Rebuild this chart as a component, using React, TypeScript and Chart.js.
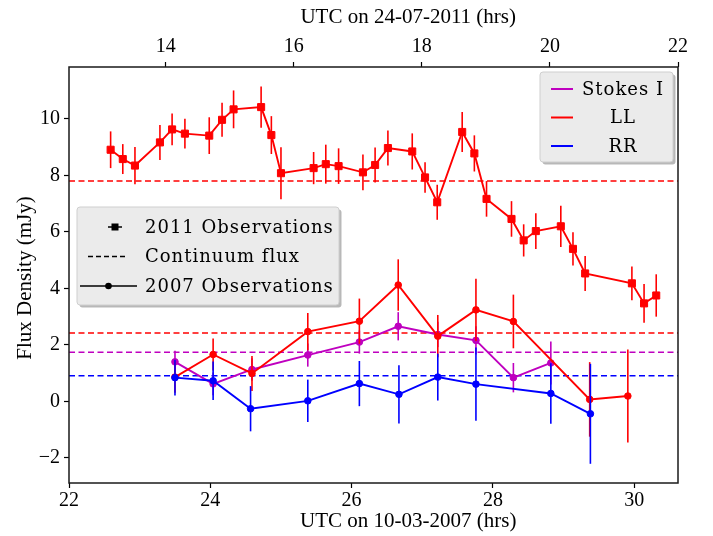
import React, { useEffect, useRef } from 'react';
import { Chart, registerables } from 'chart.js';

Chart.register(...registerables);

// ---- axis ranges & ticks ----
const X2007_MIN = 22;
const X2007_MAX = 30.62;
const X2011_MIN = 12.49;
const X2011_MAX = 22.0;
const Y_MIN = -2.89;
const Y_MAX = 11.84;
const TICKS_2007 = [22, 24, 26, 28, 30];
const TICKS_2011 = [14, 16, 18, 20, 22];
const TICKS_Y = [-2, 0, 2, 4, 6, 8, 10];

// ---- axis titles ----
const TITLE_BOTTOM = 'UTC on 10-03-2007 (hrs)';
const TITLE_TOP = 'UTC on 24-07-2011 (hrs)';
const TITLE_Y = 'Flux Density (mJy)';

// ---- 2011 observations (LL), UTC hours on 24-07-2011 ----
const t2011 = [13.14, 13.33, 13.52, 13.91, 14.10, 14.30, 14.68, 14.88, 15.06, 15.49, 15.65, 15.80, 16.31, 16.50, 16.70, 17.08, 17.27, 17.47, 17.85, 18.05, 18.24, 18.63, 18.82, 19.01, 19.40, 19.59, 19.78, 20.17, 20.36, 20.55, 21.28, 21.47, 21.66];
const ll2011 = [8.91, 8.58, 8.35, 9.17, 9.63, 9.48, 9.41, 9.97, 10.34, 10.42, 9.43, 8.08, 8.26, 8.40, 8.33, 8.11, 8.37, 8.97, 8.85, 7.93, 7.05, 9.54, 8.78, 7.17, 6.46, 5.70, 6.03, 6.20, 5.40, 4.53, 4.18, 3.47, 3.75];
const ll2011Err = [0.65, 0.53, 0.66, 0.62, 0.56, 0.53, 0.65, 0.60, 0.67, 0.73, 0.67, 0.92, 0.57, 0.69, 0.63, 0.63, 0.62, 0.62, 0.64, 0.54, 0.62, 0.71, 0.64, 0.63, 0.63, 0.57, 0.63, 0.73, 0.59, 0.62, 0.60, 0.69, 0.75];

// ---- 2007 observations, UTC hours on 10-03-2007 ----
const tStokes2007 = [23.50, 24.04, 24.59, 25.38, 26.11, 26.66, 27.22, 27.76, 28.29, 28.82];
const stokes2007 = [1.40, 0.62, 1.13, 1.64, 2.10, 2.66, 2.37, 2.16, 0.84, 1.36];
const stokes2007Err = [0.39, 0.40, 0.40, 0.41, 0.41, 0.50, 0.45, 0.50, 0.52, 0.76];

const tLL2007 = [23.50, 24.04, 24.59, 25.38, 26.11, 26.66, 27.22, 27.76, 28.29, 29.37, 29.91];
const ll2007 = [0.86, 1.66, 0.99, 2.47, 2.84, 4.12, 2.31, 3.24, 2.83, 0.07, 0.19];
const ll2007Err = [0.55, 0.57, 0.62, 0.66, 0.80, 0.91, 0.75, 1.10, 0.95, 1.32, 1.65];

const tRR2007 = [23.50, 24.04, 24.57, 25.38, 26.11, 26.67, 27.22, 27.76, 28.82, 29.38];
const rr2007 = [0.84, 0.73, -0.26, 0.02, 0.63, 0.25, 0.86, 0.61, 0.28, -0.44];
const rr2007Err = [0.63, 0.68, 0.80, 0.75, 0.80, 1.03, 0.83, 1.30, 1.07, 1.77];

// ---- continuum flux levels ----
const contLL2011 = 7.8;
const contLL2007 = 2.42;
const contStokes2007 = 1.74;
const contRR2007 = 0.91;

const MAGENTA = '#bf00bf';
const RED = '#ff0000';
const BLUE = '#0000ff';

const AXIS_FONT = { family: "'Liberation Serif', serif", size: 20 };
const TITLE_FONT = "21px 'Liberation Serif', serif";
const LEGEND_FONT = "18px 'DejaVu Serif', serif";

const pts = (xs: number[], ys: number[]) => xs.map((x, i) => ({ x, y: ys[i] }));

const errorBarPlugin = {
  id: 'errorBars',
  beforeDatasetDraw(chart: any, args: any) {
    const ds = chart.data.datasets[args.index];
    if (!ds.errors) return;
    const meta = args.meta;
    const xs = chart.scales[meta.xAxisID];
    const ys = chart.scales[meta.yAxisID];
    const ctx = chart.ctx;
    ctx.save();
    ctx.strokeStyle = ds.borderColor;
    ctx.lineWidth = 1.6;
    ds.data.forEach((p: any, i: number) => {
      const x = xs.getPixelForValue(p.x);
      ctx.beginPath();
      ctx.moveTo(x, ys.getPixelForValue(p.y - ds.errors[i]));
      ctx.lineTo(x, ys.getPixelForValue(p.y + ds.errors[i]));
      ctx.stroke();
    });
    ctx.restore();
  },
};

const framePlugin = {
  id: 'frame',
  afterDatasetsDraw(chart: any) {
    const { left, top, right, bottom } = chart.chartArea;
    const ctx = chart.ctx;
    ctx.save();
    ctx.strokeStyle = '#1a1a1a';
    ctx.lineWidth = 1.5;
    ctx.strokeRect(left, top, right - left, bottom - top);
    ctx.restore();
  },
};

const titlesPlugin = {
  id: 'axisTitles',
  afterDraw(chart: any) {
    const ctx: CanvasRenderingContext2D = chart.ctx;
    const ca = chart.chartArea;
    const cx = ca.left + (ca.right - ca.left) * 0.557;
    ctx.save();
    ctx.font = TITLE_FONT;
    ctx.fillStyle = '#000';
    ctx.textAlign = 'center';
    ctx.textBaseline = 'middle';
    ctx.fillText(TITLE_TOP, cx, 17);
    ctx.fillText(TITLE_BOTTOM, cx, chart.height - 15);
    ctx.translate(25, (ca.top + ca.bottom) / 2 + 3);
    ctx.rotate(-Math.PI / 2);
    ctx.fillText(TITLE_Y, 0, 0);
    ctx.restore();
  },
};

function roundRect(ctx: CanvasRenderingContext2D, x: number, y: number, w: number, h: number, r: number) {
  ctx.beginPath();
  ctx.moveTo(x + r, y);
  ctx.lineTo(x + w - r, y);
  ctx.quadraticCurveTo(x + w, y, x + w, y + r);
  ctx.lineTo(x + w, y + h - r);
  ctx.quadraticCurveTo(x + w, y + h, x + w - r, y + h);
  ctx.lineTo(x + r, y + h);
  ctx.quadraticCurveTo(x, y + h, x, y + h - r);
  ctx.lineTo(x, y + r);
  ctx.quadraticCurveTo(x, y, x + r, y);
  ctx.closePath();
}

function legendBox(ctx: CanvasRenderingContext2D, x: number, y: number, w: number, h: number) {
  ctx.save();
  roundRect(ctx, x + 2.5, y + 2.5, w, h, 3);
  ctx.fillStyle = 'rgba(0,0,0,0.28)';
  ctx.fill();
  roundRect(ctx, x, y, w, h, 3);
  ctx.fillStyle = '#ebebeb';
  ctx.fill();
  ctx.strokeStyle = '#cfcfcf';
  ctx.lineWidth = 1;
  ctx.stroke();
  ctx.restore();
}

const legendsPlugin = {
  id: 'customLegends',
  afterDraw(chart: any) {
    const ctx: CanvasRenderingContext2D = chart.ctx;
    const ca = chart.chartArea;
    ctx.save();
    ctx.font = LEGEND_FONT;
    (ctx as any).letterSpacing = '1px';
    ctx.textBaseline = 'middle';
    ctx.fillStyle = '#000';

    // Legend 1: symbols
    const lx = ca.left + 8;
    const ly = ca.top + 140;
    legendBox(ctx, lx, ly, 262, 98);
    const rows1 = [ly + 20, ly + 49.5, ly + 79];
    const textX = lx + 68;
    ctx.strokeStyle = '#000';
    ctx.lineWidth = 1.5;
    ctx.beginPath();
    ctx.moveTo(lx + 31, rows1[0]);
    ctx.lineTo(lx + 45, rows1[0]);
    ctx.stroke();
    ctx.fillRect(lx + 34.5, rows1[0] - 3.5, 7, 7);
    ctx.setLineDash([5, 3]);
    ctx.beginPath();
    ctx.moveTo(lx + 11, rows1[1]);
    ctx.lineTo(lx + 50, rows1[1]);
    ctx.stroke();
    ctx.setLineDash([]);
    ctx.beginPath();
    ctx.moveTo(lx + 3, rows1[2]);
    ctx.lineTo(lx + 60, rows1[2]);
    ctx.stroke();
    ctx.beginPath();
    ctx.arc(lx + 31.5, rows1[2], 3.3, 0, Math.PI * 2);
    ctx.fill();
    ctx.textAlign = 'left';
    ctx.fillText('2011 Observations', textX, rows1[0] + 1);
    ctx.fillText('Continuum flux', textX, rows1[1] + 1);
    ctx.fillText('2007 Observations', textX, rows1[2] + 1);

    // Legend 2: colours
    const rx = ca.right - 138;
    const ry = ca.top + 5;
    legendBox(ctx, rx, ry, 133, 90);
    const rows2 = [ry + 17, ry + 45.5, ry + 74];
    const items: [string, string][] = [['Stokes I', MAGENTA], ['LL', RED], ['RR', BLUE]];
    ctx.textAlign = 'center';
    items.forEach(([label, color], i) => {
      ctx.strokeStyle = color;
      ctx.lineWidth = 2;
      ctx.beginPath();
      ctx.moveTo(rx + 11, rows2[i]);
      ctx.lineTo(rx + 33, rows2[i]);
      ctx.stroke();
      ctx.fillStyle = '#000';
      ctx.fillText(label, rx + 83, rows2[i] + 1);
    });
    ctx.restore();
  },
};

const series = (label: string, xs: number[], ys: number[], errs: number[], color: string, order: number, rect = false, axis = 'x') => ({
  type: 'line',
  label,
  data: pts(xs, ys),
  errors: errs,
  xAxisID: axis,
  yAxisID: 'y',
  borderColor: color,
  backgroundColor: color,
  pointBackgroundColor: color,
  pointBorderColor: color,
  borderWidth: 1.9,
  pointRadius: rect ? 5 : 3.3,
  pointBorderWidth: 1,
  pointStyle: rect ? 'rect' : 'circle',
  tension: 0,
  order,
});

const hline = (label: string, y: number, color: string) => ({
  type: 'line',
  label,
  data: [{ x: X2007_MIN, y }, { x: X2007_MAX, y }],
  xAxisID: 'x',
  yAxisID: 'y',
  borderColor: color,
  borderWidth: 1.5,
  borderDash: [6, 3.5],
  pointRadius: 0,
  order: 10,
});

export default function App() {
  const ref = useRef<HTMLCanvasElement | null>(null);

  useEffect(() => {
    if (!ref.current) return;
    const tickGrid = { drawOnChartArea: false, tickLength: 5, color: '#000', tickWidth: 1.2 };
    const chart = new Chart(ref.current, {
      type: 'line',
      data: {
        datasets: [
          series('RR 2007', tRR2007, rr2007, rr2007Err, BLUE, 1),
          series('LL 2007', tLL2007, ll2007, ll2007Err, RED, 2),
          series('Stokes I 2007', tStokes2007, stokes2007, stokes2007Err, MAGENTA, 3),
          series('LL 2011', t2011, ll2011, ll2011Err, RED, 4, true, 'x2'),
          hline('LL 2011 continuum', contLL2011, RED),
          hline('LL 2007 continuum', contLL2007, RED),
          hline('Stokes I 2007 continuum', contStokes2007, MAGENTA),
          hline('RR 2007 continuum', contRR2007, BLUE),
        ] as any,
      },
      options: {
        responsive: false,
        animation: false,
        devicePixelRatio: 1,
        layout: { padding: { left: 0, right: 35, top: 0, bottom: 0 } },
        plugins: { legend: { display: false }, tooltip: { enabled: false }, title: { display: false } },
        scales: {
          x: {
            type: 'linear',
            position: 'bottom',
            min: X2007_MIN,
            max: X2007_MAX,
            afterBuildTicks: (s: any) => { s.ticks = TICKS_2007.map((v) => ({ value: v })); },
            afterFit: (s: any) => { s.height = 53; },
            ticks: { font: AXIS_FONT, color: '#000', padding: 1, maxRotation: 0, autoSkip: false },
            grid: tickGrid,
            border: { display: false },
            title: { display: false },
          },
          x2: {
            type: 'linear',
            position: 'top',
            min: X2011_MIN,
            max: X2011_MAX,
            afterBuildTicks: (s: any) => { s.ticks = TICKS_2011.map((v) => ({ value: v })); },
            afterFit: (s: any) => { s.height = 67; },
            ticks: { font: AXIS_FONT, color: '#000', padding: 3, maxRotation: 0, autoSkip: false },
            grid: tickGrid,
            border: { display: false },
            title: { display: false },
          },
          y: {
            type: 'linear',
            position: 'left',
            min: Y_MIN,
            max: Y_MAX,
            afterBuildTicks: (s: any) => { s.ticks = TICKS_Y.map((v) => ({ value: v })); },
            afterFit: (s: any) => { s.width = 69; },
            ticks: {
              font: AXIS_FONT,
              color: '#000',
              padding: 4,
              callback: (v: any) => (Number(v) < 0 ? '\u2212' + Math.abs(Number(v)) : String(v)),
            },
            grid: tickGrid,
            border: { display: false },
            title: { display: false },
          },
        },
      } as any,
      plugins: [errorBarPlugin, framePlugin, titlesPlugin, legendsPlugin],
    });
    return () => chart.destroy();
  }, []);

  return (
    <div style={{ position: 'absolute', left: 0, top: 0, width: 713, height: 536, background: '#fff' }}>
      <canvas ref={ref} width={713} height={536} />
    </div>
  );
}
